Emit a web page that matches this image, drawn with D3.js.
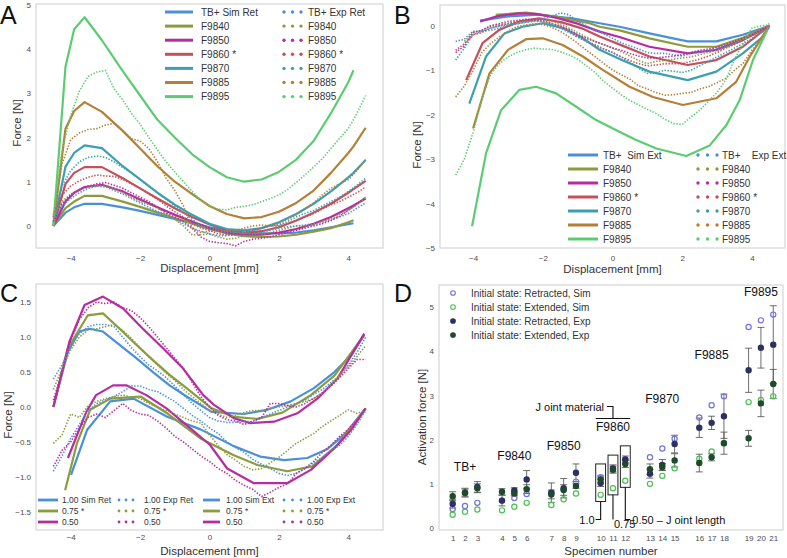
<!DOCTYPE html>
<html>
<head>
<meta charset="utf-8">
<script src="https://cdn.jsdelivr.net/npm/d3@7"></script>
<style>
  body { margin: 0; background: #fff; }
  text { font-family: "Liberation Sans", Arial, Helvetica, sans-serif; }
</style>
</head>
<body>
<svg id="fig" width="787" height="558"></svg>
<script>
// ---------- shared ----------
const names = ["TB+", "F9840", "F9850", "F9860", "F9870", "F9885", "F9895"];
const colors = ["#4a90d9", "#8c9c3c", "#b62da0", "#c4505c", "#3d9fb2", "#b47f36", "#5ccc72"];
const expX = [-4.5,-4.25,-4,-3.75,-3.5,-3.25,-3,-2.75,-2.5,-2.25,-2,-1.75,-1.5,-1.25,-1,-0.75,-0.5,-0.25,0,0.25,0.5,0.75,1,1.25,1.5,1.75,2,2.25,2.5,2.75,3,3.25,3.5,3.75,4,4.25,4.5];

// ---------- panel A (retracted) ----------
const simAX = [-4.5,-4.15,-3.9,-3.6,-3.1,-2.5,-2,-1.5,-1,-0.5,0,0.5,1,1.5,2,2.5,3,3.5,4,4.15,4.5];
const simA_TB   = [0,0.3,0.42,0.5,0.5,0.42,0.34,0.25,0.16,0.07,-0.03,-0.1,-0.15,-0.17,-0.17,-0.15,-0.1,-0.03,0.04,0.06,null];
const simA_9840 = [0,0.4,0.55,0.68,0.68,0.55,0.43,0.3,0.18,0.05,-0.07,-0.17,-0.23,-0.25,-0.24,-0.2,-0.13,-0.05,0.08,0.13,null];
const simA_9850 = [0,0.55,0.75,0.88,0.93,0.78,0.6,0.42,0.25,0.1,-0.05,-0.15,-0.2,-0.2,-0.15,-0.07,0.05,0.2,0.4,0.46,0.62];
const simA_9860 = [0,0.95,1.2,1.33,1.33,1.08,0.85,0.62,0.4,0.2,0.03,-0.1,-0.15,-0.12,-0.03,0.12,0.3,0.5,0.75,0.83,1.02];
const simA_9870 = [0,1.34,1.65,1.82,1.76,1.35,1.05,0.75,0.48,0.25,0.05,-0.07,-0.1,-0.05,0.08,0.27,0.5,0.78,1.1,1.2,1.49];
const simA_9885 = [0,2.2,2.6,2.8,2.58,2.15,1.75,1.35,1.0,0.72,0.45,0.27,0.17,0.2,0.32,0.52,0.8,1.2,1.65,1.8,2.22];
const simA_9895 = [0,3.6,4.45,4.72,4.2,3.5,2.95,2.4,2.0,1.62,1.33,1.1,1.0,1.05,1.22,1.5,1.92,2.55,3.25,3.52,null];

const expA_TB   = [0.15,0.45,0.62,0.75,0.85,0.9,0.88,0.8,0.72,0.62,0.52,0.42,0.33,0.25,0.15,0.05,-0.05,-0.12,-0.18,-0.22,-0.22,-0.2,-0.22,-0.2,-0.15,-0.1,-0.05,-0.02,0,0.02,0.05,0.08,0.15,0.2,0.28,0.4,0.52];
const expA_9840 = [0.2,0.55,0.72,0.82,0.88,0.92,0.9,0.85,0.75,0.65,0.55,0.48,0.4,0.28,0.15,0,-0.2,-0.2,-0.18,-0.25,-0.3,-0.28,-0.22,-0.25,-0.2,-0.15,-0.1,-0.05,0,0,0.02,0.1,0.15,0.25,0.35,0.48,0.65];
const expA_9850 = [0.1,0.5,0.7,0.82,0.9,0.95,0.98,0.92,0.85,0.75,0.65,0.55,0.42,0.3,0.2,0.1,-0.05,-0.25,-0.35,-0.38,-0.4,-0.45,-0.35,-0.3,-0.28,-0.25,-0.2,-0.15,-0.1,-0.05,0,0.05,0.12,0.22,0.35,0.5,0.65];
const expA_9860 = [0.25,0.7,0.9,1.02,1.1,1.15,1.13,1.12,1.05,0.95,0.85,0.72,0.6,0.45,0.32,0.2,0.05,-0.05,-0.1,-0.18,-0.2,-0.2,-0.15,-0.1,-0.05,0,0,0.05,0.12,0.2,0.28,0.38,0.48,0.55,0.65,0.75,0.88];
const expA_9870 = [0.2,0.9,1.25,1.45,1.55,1.58,1.55,1.45,1.32,1.2,1.05,0.9,0.75,0.6,0.45,0.3,0.15,0,-0.05,-0.1,-0.15,-0.15,-0.15,-0.12,-0.05,0,0.02,0.1,0.2,0.28,0.35,0.45,0.55,0.65,0.78,0.92,1.08];
const expA_9885 = [0.2,1.4,1.95,2.1,2.18,2.2,2.28,2.32,2.15,1.97,1.92,1.75,1.45,1.08,0.8,0.45,-0.05,-0.15,-0.12,-0.1,-0.12,-0.1,-0.05,0,0.02,0,0.05,0.15,0.25,0.38,0.52,0.7,0.85,0.95,1.05,1.25,1.5];
const expA_9895 = [0.25,1.7,2.5,3.05,3.38,3.48,3.52,3.1,2.85,2.55,2.3,2.0,1.72,1.45,1.22,1.0,0.78,0.58,0.45,0.38,0.36,0.42,0.44,0.48,0.55,0.62,0.7,0.82,0.98,1.15,1.33,1.52,1.75,1.98,2.2,2.55,2.95];

// ---------- panel B (extended) ----------
const simB_TB_x   = [-3.8,-3.05,-2.1,-1.15,-0.37,0.2,1.06,1.6,2.16,2.98,3.74,4.5];
const simB_TB     = [0.12,0.21,0.25,0.17,0.06,-0.02,-0.17,-0.26,-0.35,-0.35,-0.2,0];
const simB_9840_x = [-3.35,-2.48,-1.62,-0.66,-0.37,0.2,1.06,2.16,2.98,3.74,4.5];
const simB_9840   = [0.25,0.3,0.21,0.06,-0.02,-0.1,-0.28,-0.47,-0.47,-0.27,0];
const simB_9850_x = [-3.8,-3.3,-2.7,-2.2,-1.6,-1.0,-0.37,0.2,1.06,2.16,2.98,3.74,4.5];
const simB_9850   = [0.1,0.22,0.28,0.27,0.18,0.05,-0.13,-0.25,-0.47,-0.62,-0.54,-0.32,0];
const simB_9860_x = [-4.2,-3.73,-3.25,-2.67,-2.1,-1.45,-0.9,-0.37,0.3,1.06,2.16,2.98,3.74,4.5];
const simB_9860   = [-1.22,-0.39,-0.09,0.1,0.17,0.08,-0.05,-0.24,-0.45,-0.69,-0.88,-0.77,-0.47,0];
const simB_9870_x = [-4.11,-3.63,-3.1,-2.58,-2,-1.43,-0.9,-0.37,0.3,1.06,2.16,2.98,3.74,4.32,4.5];
const simB_9870   = [-1.75,-0.69,-0.17,-0.02,0.06,-0.05,-0.25,-0.54,-0.78,-1.03,-1.22,-1.03,-0.62,-0.24,0];
const simB_9885_x = [-4.0,-3.53,-3.0,-2.48,-2.0,-1.43,-0.85,-0.28,0.49,1.16,2.02,2.98,3.55,3.94,4.5];
const simB_9885   = [-2.31,-1.07,-0.54,-0.3,-0.28,-0.43,-0.69,-0.99,-1.37,-1.6,-1.78,-1.63,-1.26,-0.69,0];
const simB_9895_x = [-4.03,-3.63,-3.2,-2.67,-2.19,-1.62,-1.04,-0.47,0.11,0.68,1.26,2.12,2.79,3.27,3.65,4.03,4.5];
const simB_9895   = [-4.51,-2.87,-1.9,-1.44,-1.37,-1.52,-1.82,-2.12,-2.35,-2.57,-2.76,-2.93,-2.69,-2.23,-1.67,-0.77,0];

const expB_TB   = [-0.35,-0.3,-0.12,-0.12,-0.1,-0.05,0,0.04,0.08,0.12,0.16,0.22,0.29,0.25,0.1,0,-0.1,-0.18,-0.28,-0.38,-0.45,-0.52,-0.6,-0.62,-0.62,-0.65,-0.68,-0.62,-0.6,-0.55,-0.5,-0.45,-0.38,-0.3,-0.22,-0.12,-0.05];
const expB_9840 = [null,-0.35,-0.15,-0.1,0,0.03,0.05,0.08,0.1,0.12,0.15,0.1,0.05,-0.05,-0.15,-0.25,-0.35,-0.42,-0.5,-0.58,-0.68,-0.78,-0.85,-0.8,-0.78,-0.75,-0.72,-0.7,-0.65,-0.6,-0.55,-0.48,-0.4,-0.3,-0.2,-0.1,0.05];
const expB_9850 = [-0.6,-0.45,-0.15,-0.1,0,0.05,0.1,0.12,0.15,0.14,0.12,0.05,0,-0.08,-0.2,-0.28,-0.35,-0.42,-0.5,-0.55,-0.62,-0.68,-0.72,-0.72,-0.7,-0.68,-0.65,-0.6,-0.55,-0.52,-0.48,-0.42,-0.35,-0.28,-0.2,-0.1,0];
const expB_9860 = [-0.55,-0.4,-0.2,-0.15,-0.05,0,0.05,0.1,0.12,0.12,0.1,0.05,0,-0.12,-0.25,-0.35,-0.45,-0.52,-0.6,-0.7,-0.78,-0.85,-0.9,-0.88,-0.85,-0.85,-0.85,-0.8,-0.75,-0.68,-0.6,-0.5,-0.42,-0.32,-0.22,-0.12,0];
const expB_9870 = [-0.77,-0.5,-0.2,-0.12,-0.05,0,0.02,0.05,0.08,0.1,0.1,0.05,-0.05,-0.15,-0.25,-0.35,-0.42,-0.52,-0.6,-0.7,-0.82,-0.95,-1.07,-1.05,-1.0,-1.02,-1.05,-1.0,-0.9,-0.8,-0.7,-0.6,-0.5,-0.4,-0.28,-0.15,-0.05];
const expB_9885 = [-1.6,-1.35,-1.0,-0.6,-0.4,-0.25,-0.12,-0.02,0.02,0.05,0.03,-0.03,-0.12,-0.25,-0.39,-0.55,-0.69,-0.85,-0.99,-1.1,-1.2,-1.35,-1.42,-1.5,-1.56,-1.55,-1.52,-1.5,-1.42,-1.37,-1.28,-1.18,-1.0,-0.84,-0.55,-0.3,0.05];
const expB_9895 = [-3.36,-3.0,-2.4,-1.65,-1.1,-0.85,-0.7,-0.6,-0.54,-0.5,-0.52,-0.53,-0.58,-0.65,-0.75,-0.9,-1.05,-1.25,-1.4,-1.55,-1.68,-1.78,-1.88,-1.97,-2.1,-2.2,-2.22,-2.05,-1.9,-1.7,-1.5,-1.22,-0.75,-0.4,-0.05,0.0,0.02];

// ---------- panel C (joint length) ----------
const simC_100R_x = [-4.5,-4.08,-3.75,-3.46,-3.07,-2.59,-2.11,-1.63,-1.15,-0.66,0.06,0.99,1.67,2.34,3.01,3.6,4.08,4.46];
const simC_100R   = [0,0.79,1.08,1.12,1.08,0.89,0.7,0.5,0.31,0.15,-0.07,-0.1,-0.04,0.08,0.27,0.5,0.74,1.03];
const simC_075R_x = [-4.5,-4.08,-3.51,-3.07,-2.59,-2.11,-1.63,-1.15,-0.66,0.06,0.7,1.38,2.1,2.92,3.6,4.46];
const simC_075R   = [0,0.84,1.31,1.34,1.12,0.89,0.67,0.46,0.27,-0.02,-0.14,-0.17,-0.08,0.17,0.45,1.03];
const simC_050R_x = [-4.5,-4.04,-3.6,-3.07,-2.49,-1.92,-1.34,-0.76,-0.18,0.13,0.7,1.18,1.86,2.53,3.11,3.69,4.46];
const simC_050R   = [0,0.93,1.46,1.58,1.41,1.12,0.84,0.55,0.17,0.03,-0.16,-0.23,-0.21,-0.09,0.12,0.41,1.05];
const simC_100E_x = [-3.99,-3.53,-2.86,-2.19,-1.22,-0.26,0.7,1.47,2.15,2.82,3.4,3.88,4.5];
const simC_100E   = [-0.97,-0.33,0.08,0.12,-0.14,-0.32,-0.56,-0.71,-0.76,-0.73,-0.6,-0.4,-0.02];
const simC_075E_x = [-4.16,-3.82,-3.44,-2.86,-1.99,-1.22,-0.26,0.7,1.38,2.24,2.96,3.69,4.5];
const simC_075E   = [-1.19,-0.52,-0.04,0.12,0.15,-0.09,-0.45,-0.69,-0.83,-0.92,-0.85,-0.54,-0.02];
const simC_050E_x = [-4.08,-3.55,-3.27,-2.78,-2.4,-1.82,-1.24,-0.66,0.01,0.51,1.28,2.24,2.92,3.6,4.08,4.5];
const simC_050E   = [-0.73,-0.07,0.17,0.31,0.31,0.17,-0.02,-0.26,-0.54,-0.88,-1.09,-1.09,-0.9,-0.59,-0.33,-0.02];

const expC_100R = [0.4,0.6,0.88,1.05,1.15,1.18,1.18,1.15,1.0,0.85,0.72,0.6,0.52,0.42,0.3,0.18,0.05,-0.05,-0.15,-0.2,-0.22,-0.22,-0.2,-0.22,-0.15,-0.1,-0.05,0,0.05,0.1,0.18,0.25,0.35,0.45,0.6,0.78,1.0];
const expC_075R = [0.25,0.55,0.82,1.0,1.1,1.12,1.15,1.18,1.1,0.98,0.85,0.72,0.6,0.48,0.38,0.25,0.15,0.05,-0.05,-0.1,-0.15,-0.12,-0.08,-0.05,-0.05,-0.02,0,0.02,0.05,0.08,0.12,0.2,0.32,0.45,0.58,0.72,0.88];
const expC_050R = [0.1,0.5,0.95,1.25,1.42,1.5,1.48,1.5,1.42,1.38,1.28,1.15,1.0,0.85,0.7,0.55,0.35,0.15,0,-0.12,-0.18,-0.2,-0.25,-0.2,-0.15,0.05,0.05,0.02,0,0.05,0.12,0.2,0.3,0.42,0.55,0.68,0.68];
const expC_100E = [-0.92,-0.7,-0.45,-0.25,-0.05,0.05,0.1,0.15,0.22,0.3,0.3,0.25,0.22,0.15,0.08,-0.02,-0.12,-0.2,-0.3,-0.38,-0.5,-0.58,-0.65,-0.75,-0.82,-0.88,-0.95,-0.98,-0.95,-0.88,-0.8,-0.72,-0.62,-0.55,-0.42,-0.25,-0.05];
const expC_075E = [-0.52,-0.4,-0.1,-0.15,0.02,0.08,0.12,0.15,0.17,0.14,0.12,0.05,0,-0.05,-0.1,-0.15,-0.2,-0.23,-0.4,-0.55,-0.68,-0.76,-0.85,-0.9,-0.88,-0.8,-0.72,-0.62,-0.52,-0.45,-0.38,-0.28,-0.2,-0.12,-0.04,-0.09,-0.05];
const expC_050E = [-0.85,-0.62,-0.5,-0.3,-0.15,-0.1,-0.15,-0.05,0.05,-0.05,-0.1,-0.12,-0.2,-0.3,-0.42,-0.5,-0.6,-0.7,-0.78,-0.88,-0.95,-1.05,-1.12,-1.18,-1.28,-1.22,-1.15,-1.1,-0.95,-0.88,-0.78,-0.65,-0.55,-0.42,-0.32,-0.18,-0.02];

// ---------- panel D (activation force) ----------
const specimens = [1,2,3,4,5,6,7,8,9,10,11,12,13,14,15,16,17,18,19,20,21];
const simRet    = [0.43,0.50,0.57,0.62,0.68,0.77,0.80,0.88,1.05,1.15,1.35,1.55,1.60,1.80,2.02,2.50,2.78,2.98,4.55,4.70,4.83];
const simExt    = [0.30,0.37,0.42,0.40,0.48,0.57,0.52,0.65,0.78,0.75,0.90,1.07,1.00,1.18,1.35,1.57,1.73,1.92,2.85,2.90,2.98];
const expRet    = [0.55,0.80,0.93,0.62,0.85,1.10,0.80,0.90,1.25,1.02,1.35,1.55,1.23,1.43,1.90,2.27,2.38,2.53,3.57,4.08,4.15];
const expRetErr = [0.10,0.10,0.12,0.12,0.06,0.20,0.22,0.22,0.20,0.08,0.08,0.08,0.10,0.12,0.20,0.22,0.15,0.50,0.50,0.46,0.88];
const expExt    = [0.72,0.80,0.90,0.82,0.78,0.88,0.76,0.86,0.95,1.10,1.32,1.45,1.33,1.38,1.53,1.47,1.60,1.92,2.03,2.82,3.26];
const expExtErr = [0.10,0.08,0.10,0.07,0.05,0.10,0.10,0.12,0.05,0.08,0.08,0.08,0.12,0.08,0.15,0.20,0.08,0.25,0.18,0.30,0.33];
const groupLabels = ["TB+", "F9840", "F9850", "F9870", "F9885", "F9895"];
const groupSpec   = [2, 5, 8, 14, 17, 20];
const groupLabelY = [1.3, 1.53, 1.77, 2.82, 3.82, 5.25];
const boxSpec = [10, 11, 12];
const boxLo   = [0.6, 0.75, 0.92];
const boxHi   = [1.45, 1.65, 1.86];

// ---------- drawing ----------
const svg = d3.select("#fig");
const tickCol = "#4d4d4d";

function panel(cfg) {
  const g = svg.append("g");
  const x = d3.scaleLinear().domain(cfg.xDomain).range([cfg.left, cfg.right]);
  const y = d3.scaleLinear().domain(cfg.yDomain).range([cfg.bottom, cfg.top]);

  g.append("rect")
    .attr("x", cfg.left).attr("y", cfg.top)
    .attr("width", cfg.right - cfg.left).attr("height", cfg.bottom - cfg.top)
    .attr("fill", "#fff").attr("stroke", "#d6d6d6").attr("stroke-width", 1.2);

  const xa = g.append("g")
    .attr("transform", `translate(0,${cfg.bottom})`)
    .call(d3.axisBottom(x).tickValues(cfg.xTicks).tickSize(0).tickPadding(cfg.xPad || 7)
      .tickFormat(cfg.xFormat || d3.format("d")));
  const ya = g.append("g")
    .attr("transform", `translate(${cfg.left},0)`)
    .call(d3.axisLeft(y).tickValues(cfg.yTicks).tickSize(0).tickPadding(5)
      .tickFormat(cfg.yFormat || d3.format("d")));
  for (const a of [xa, ya]) {
    a.select(".domain").remove();
    a.selectAll("text").attr("font-size", 8).attr("fill", tickCol)
      .attr("font-family", '"Liberation Sans", Arial, sans-serif');
  }

  g.append("text")
    .attr("x", (cfg.left + cfg.right) / 2).attr("y", cfg.xLabelY)
    .attr("text-anchor", "middle").attr("font-size", 11.5).attr("fill", "#333")
    .text(cfg.xLabel);
  g.append("text")
    .attr("transform", `translate(${cfg.yLabelX},${cfg.yLabelY}) rotate(-90)`)
    .attr("text-anchor", "middle").attr("font-size", 11.5).attr("fill", "#333")
    .text(cfg.yLabel);
  g.append("text")
    .attr("x", cfg.letterX).attr("y", cfg.letterY)
    .attr("font-size", 25).attr("fill", "#111")
    .text(cfg.letter);

  const plot = g.append("g");
  return { g, plot, x, y };
}

function simLine(p, xs, ys, color, width) {
  const line = d3.line().defined((d) => d[1] !== null).x((d) => p.x(d[0])).y((d) => p.y(d[1]));
  p.plot.append("path")
    .datum(xs.map((v, i) => [v, ys[i]]))
    .attr("fill", "none").attr("stroke", color).attr("stroke-width", width || 2.2)
    .attr("stroke-linejoin", "round")
    .attr("d", line);
}

function expLine(p, ys, color) {
  const line = d3.line().defined((d) => d[1] !== null && d[1] !== undefined)
    .x((d) => p.x(d[0])).y((d) => p.y(d[1]));
  p.plot.append("path")
    .datum(expX.map((v, i) => [v, ys[i]]))
    .attr("fill", "none").attr("stroke", color).attr("stroke-width", 1.6)
    .attr("stroke-dasharray", "1.4 1.6")
    .attr("d", line);
}

function legendLine(g, x0, x1, y, color, w) {
  g.append("line").attr("x1", x0).attr("x2", x1).attr("y1", y).attr("y2", y)
    .attr("stroke", color).attr("stroke-width", w || 3);
}
function legendDots(g, x0, x1, y, color, r) {
  for (const xx of [x0, (x0 + x1) / 2, x1]) {
    g.append("circle").attr("cx", xx).attr("cy", y).attr("r", r || 1.7).attr("fill", color);
  }
}
function legendText(g, x, y, s, size) {
  g.append("text").attr("x", x).attr("y", y + (size || 10) * 0.36)
    .attr("font-size", size || 10).attr("fill", "#333")
    .attr("xml:space", "preserve").style("white-space", "pre")
    .text(s);
}

// ----- A -----
const pA = panel({
  left: 36, right: 383, top: 4, bottom: 248,
  xDomain: [-5, 5], yDomain: [-0.5, 5.02],
  xTicks: [-4, -2, 0, 2, 4], yTicks: [0, 1, 2, 3, 4, 5],
  xLabel: "Displacement [mm]", xLabelY: 272,
  yLabel: "Force [N]", yLabelX: 21, yLabelY: 123,
  letter: "A", letterX: 0, letterY: 24
});
const simA = [simA_TB, simA_9840, simA_9850, simA_9860, simA_9870, simA_9885, simA_9895];
const expA = [expA_TB, expA_9840, expA_9850, expA_9860, expA_9870, expA_9885, expA_9895];
simA.forEach((s, i) => simLine(pA, simAX, s, colors[i]));
expA.forEach((s, i) => expLine(pA, s, colors[i]));
const legA1 = ["TB+ Sim Ret", "F9840", "F9850", "F9860 *", "F9870", "F9885", "F9895"];
const legA2 = ["TB+ Exp Ret", "F9840", "F9850", "F9860 *", "F9870", "F9885", "F9895"];
legA1.forEach((t, i) => {
  const yy = 12 + i * 14.1;
  legendLine(pA.g, 165, 193, yy, colors[i]);
  legendText(pA.g, 201, yy, t);
  legendDots(pA.g, 284, 301, yy, colors[i]);
  legendText(pA.g, 308, yy, legA2[i]);
});

// ----- B -----
const pB = panel({
  left: 440, right: 785, top: 5, bottom: 248,
  xDomain: [-4.95, 4.95], yDomain: [-5, 0.47],
  xTicks: [-4, -2, 0, 2, 4], yTicks: [-5, -4, -3, -2, -1, 0],
  xLabel: "Displacement [mm]", xLabelY: 273,
  yLabel: "Force [N]", yLabelX: 421, yLabelY: 145,
  letter: "B", letterX: 394, letterY: 24
});
const simBx = [simB_TB_x, simB_9840_x, simB_9850_x, simB_9860_x, simB_9870_x, simB_9885_x, simB_9895_x];
const simB = [simB_TB, simB_9840, simB_9850, simB_9860, simB_9870, simB_9885, simB_9895];
const expB = [expB_TB, expB_9840, expB_9850, expB_9860, expB_9870, expB_9885, expB_9895];
simB.forEach((s, i) => simLine(pB, simBx[i], s, colors[i]));
expB.forEach((s, i) => expLine(pB, s, colors[i]));
const legB1 = ["TB+  Sim Ext", "F9840", "F9850", "F9860 *", "F9870", "F9885", "F9895"];
const legB2 = ["TB+    Exp Ext", "F9840", "F9850", "F9860 *", "F9870", "F9885", "F9895"];
legB1.forEach((t, i) => {
  const yy = 155 + i * 14;
  legendLine(pB.g, 568, 598, yy, colors[i]);
  legendText(pB.g, 603, yy, t);
  legendDots(pB.g, 698, 717, yy, colors[i]);
  legendText(pB.g, 722, yy, legB2[i]);
});

// ----- C -----
const pC = panel({
  left: 36, right: 383, top: 284, bottom: 530,
  xDomain: [-5, 5], yDomain: [-1.76, 1.76],
  xTicks: [-4, -2, 0, 2, 4], yTicks: [-1.5, -1, -0.5, 0, 0.5, 1, 1.5],
  yFormat: d3.format(".1f"), xPad: 4,
  xLabel: "Displacement [mm]", xLabelY: 555,
  yLabel: "Force [N]", yLabelX: 12, yLabelY: 415,
  letter: "C", letterX: 0, letterY: 302
});
const colC = [colors[0], colors[1], colors[2]];
simLine(pC, simC_100R_x, simC_100R, colC[0]);
simLine(pC, simC_075R_x, simC_075R, colC[1]);
simLine(pC, simC_050R_x, simC_050R, colC[2]);
simLine(pC, simC_100E_x, simC_100E, colC[0]);
simLine(pC, simC_075E_x, simC_075E, colC[1]);
simLine(pC, simC_050E_x, simC_050E, colC[2]);
[expC_100R, expC_075R, expC_050R].forEach((s, i) => expLine(pC, s, colC[i]));
[expC_100E, expC_075E, expC_050E].forEach((s, i) => expLine(pC, s, colC[i]));
const legC = [
  ["1.00 Sim Ret", "1.00 Exp Ret", "1.00 Sim Ext", "1.00 Exp Ext"],
  ["0.75 *", "0.75 *", "0.75 *", "0.75 *"],
  ["0.50", "0.50", "0.50", "0.50"]
];
legC.forEach((row, i) => {
  const yy = 500 + i * 11;
  legendLine(pC.g, 38, 58, yy, colC[i], 2.8);
  legendText(pC.g, 62, yy, row[0], 8.5);
  legendDots(pC.g, 119, 133, yy, colC[i], 1.4);
  legendText(pC.g, 144, yy, row[1], 8.5);
  legendLine(pC.g, 203, 220, yy, colC[i], 2.8);
  legendText(pC.g, 226, yy, row[2], 8.5);
  legendDots(pC.g, 284, 301, yy, colC[i], 1.4);
  legendText(pC.g, 307, yy, row[3], 8.5);
});

// ----- D -----
const pos = (n) => n + Math.floor((n - 1) / 3);
const pD = panel({
  left: 439, right: 783, top: 285, bottom: 530,
  xDomain: [-0.11, 27.79], yDomain: [-0.045, 5.5],
  xTicks: specimens.map(pos), yTicks: [0, 1, 2, 3, 4, 5],
  xFormat: (v) => specimens.find((n) => pos(n) === v), xPad: 5,
  xLabel: "Specimen number", xLabelY: 555,
  yLabel: "Activation force [N]", yLabelX: 426, yLabelY: 417,
  letter: "D", letterX: 394, letterY: 302
});
const xD = pD.x, yD = pD.y;
const dg = pD.plot;

// boxes for the joint-length group
boxSpec.forEach((n, i) => {
  dg.append("rect")
    .attr("x", xD(pos(n) - 0.4)).attr("y", yD(boxHi[i]))
    .attr("width", xD(pos(n) + 0.4) - xD(pos(n) - 0.4))
    .attr("height", yD(boxLo[i]) - yD(boxHi[i]))
    .attr("fill", "none").attr("stroke", "#222").attr("stroke-width", 1);
});

// error bars
function errBars(vals, errs) {
  specimens.forEach((n, i) => {
    const cx = xD(pos(n));
    const lo = yD(vals[i] - errs[i]), hi = yD(vals[i] + errs[i]);
    dg.append("line").attr("x1", cx).attr("x2", cx).attr("y1", lo).attr("y2", hi)
      .attr("stroke", "#555").attr("stroke-opacity", 0.85).attr("stroke-width", 1);
    for (const yy of [lo, hi]) {
      dg.append("line").attr("x1", cx - 3.5).attr("x2", cx + 3.5).attr("y1", yy).attr("y2", yy)
        .attr("stroke", "#555").attr("stroke-opacity", 0.85).attr("stroke-width", 1);
    }
  });
}
errBars(expRet, expRetErr);
errBars(expExt, expExtErr);

const markD = [
  { vals: simRet, fill: "none", stroke: "#7272dc" },
  { vals: simExt, fill: "none", stroke: "#4cc052" },
  { vals: expRet, fill: "#2b3162", stroke: "#2b3162" },
  { vals: expExt, fill: "#1f4b2b", stroke: "#1f4b2b" }
];
markD.forEach((m) => {
  dg.selectAll(null).data(specimens).join("circle")
    .attr("cx", (n) => xD(pos(n)))
    .attr("cy", (n, i) => yD(m.vals[i]))
    .attr("r", 2.6)
    .attr("fill", m.fill).attr("stroke", m.stroke).attr("stroke-width", 1.2);
});

// group labels
groupLabels.forEach((t, i) => {
  dg.append("text").attr("x", xD(pos(groupSpec[i]))).attr("y", yD(groupLabelY[i]))
    .attr("text-anchor", "middle").attr("font-size", 12).attr("fill", "#111").text(t);
});

// joint material bracket
const c11 = xD(pos(11));
dg.append("text").attr("x", c11 - 9).attr("y", 410.5).attr("text-anchor", "end")
  .attr("font-size", 11).attr("fill", "#111").attr("xml:space", "preserve").text("J oint material");
dg.append("path").attr("d", `M${c11 - 6},406.5H${c11}V418.5M${xD(pos(10) - 0.4)},418.5H${xD(pos(12) + 0.4)}`)
  .attr("fill", "none").attr("stroke", "#111").attr("stroke-width", 1.1);
dg.append("text").attr("x", c11).attr("y", 431).attr("text-anchor", "middle")
  .attr("font-size", 12).attr("fill", "#111").text("F9860");

// joint length pointers
const c10 = xD(pos(10)), c12 = xD(pos(12));
dg.append("path")
  .attr("d", `M${c10},${yD(boxLo[0])}V519.5H${c10 - 5}` +
             `M${c11},${yD(boxLo[1])}V519.5` +
             `M${c12},${yD(boxLo[2])}V519.5H${c12 + 5}`)
  .attr("fill", "none").attr("stroke", "#111").attr("stroke-width", 1.1);
dg.append("text").attr("x", c10 - 6).attr("y", 523.5).attr("text-anchor", "end")
  .attr("font-size", 11).attr("fill", "#111").text("1.0");
dg.append("text").attr("x", c11 + 1).attr("y", 527.5)
  .attr("font-size", 11).attr("fill", "#111").text("0.75");
dg.append("text").attr("x", c12 + 7).attr("y", 523.5)
  .attr("font-size", 11).attr("fill", "#111").attr("xml:space", "preserve").text("0.50 – J oint length");

// legend D
const legD = ["Initial state: Retracted, Sim", "Initial state: Extended, Sim",
              "Initial state: Retracted, Exp", "Initial state: Extended, Exp"];
legD.forEach((t, i) => {
  const yy = 293 + i * 14;
  pD.g.append("circle").attr("cx", 453).attr("cy", yy).attr("r", 2.3)
    .attr("fill", markD[i].fill).attr("stroke", markD[i].stroke).attr("stroke-width", 1.1);
  legendText(pD.g, 471, yy, t);
});
</script>
</body>
</html>
